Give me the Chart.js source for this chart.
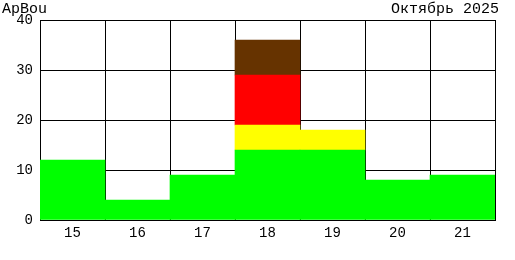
<!DOCTYPE html>
<html>
<head>
<meta charset="utf-8">
<script src="https://cdn.jsdelivr.net/npm/chart.js@4/dist/chart.umd.min.js"></script>
<style>
  html, body { margin: 0; padding: 0; background: #fff; }
  #wrap { width: 515px; height: 260px; }
</style>
</head>
<body>
<div id="wrap"><canvas id="chart" width="515" height="260"></canvas></div>
<script>
const days = ["15", "16", "17", "18", "19", "20", "21"]
// null = no segment for that day
const green = [12, 4, 9, 14, 14, 8, 9]
const yellow = [null, null, null, 5, 4, null, null]
const red = [null, null, null, 10, null, null, null]
const brown = [null, null, null, 7, null, null, null]
const yTicks = [0, 10, 20, 30, 40]
const leftTitle = "ApBou"
const rightTitle = "Октябрь 2025"

const font = "'Liberation Mono', 'DejaVu Sans Mono', monospace"

const titles = {
  id: "titles",
  afterDraw(chart) {
    const ctx = chart.ctx
    ctx.save()
    ctx.fillStyle = "#000"
    ctx.font = "15px " + font
    ctx.textBaseline = "top"
    ctx.textAlign = "left"
    ctx.fillText(leftTitle, 2, 2)
    ctx.textAlign = "right"
    ctx.fillText(rightTitle, 499, 2)
    ctx.restore()
  },
}

const mk = (data, color) => ({
  data: data,
  backgroundColor: color,
  borderWidth: 0,
  barPercentage: 1,
  categoryPercentage: 1,
})

new Chart(document.getElementById("chart"), {
  type: "bar",
  data: {
    labels: days,
    datasets: [
      mk(green, "#00ff00"),
      mk(yellow, "#ffff00"),
      mk(red, "#ff0000"),
      mk(brown, "#663300"),
    ],
  },
  options: {
    responsive: false,
    animation: false,
    layout: { padding: { top: 20, right: 20, left: 0, bottom: 0 } },
    plugins: { legend: { display: false }, tooltip: { enabled: false } },
    scales: {
      x: {
        stacked: true,
        z: 1,
        grid: { color: "#000", lineWidth: 1, drawTicks: false, offset: true },
        border: { color: "#000", width: 1 },
        ticks: { color: "#000", font: { family: font, size: 14 }, padding: 5 },
        afterFit: (s) => { s.height = 40 },
      },
      y: {
        stacked: true,
        z: 1,
        min: 0,
        max: 40,
        afterBuildTicks: (s) => { s.ticks = yTicks.map((v) => ({ value: v })) },
        grid: { color: "#000", lineWidth: 1, drawTicks: false },
        border: { color: "#000", width: 1 },
        ticks: { color: "#000", font: { family: font, size: 14 }, padding: 7 },
        afterFit: (s) => { s.width = 40 },
      },
    },
  },
  plugins: [titles],
})
</script>
</body>
</html>
